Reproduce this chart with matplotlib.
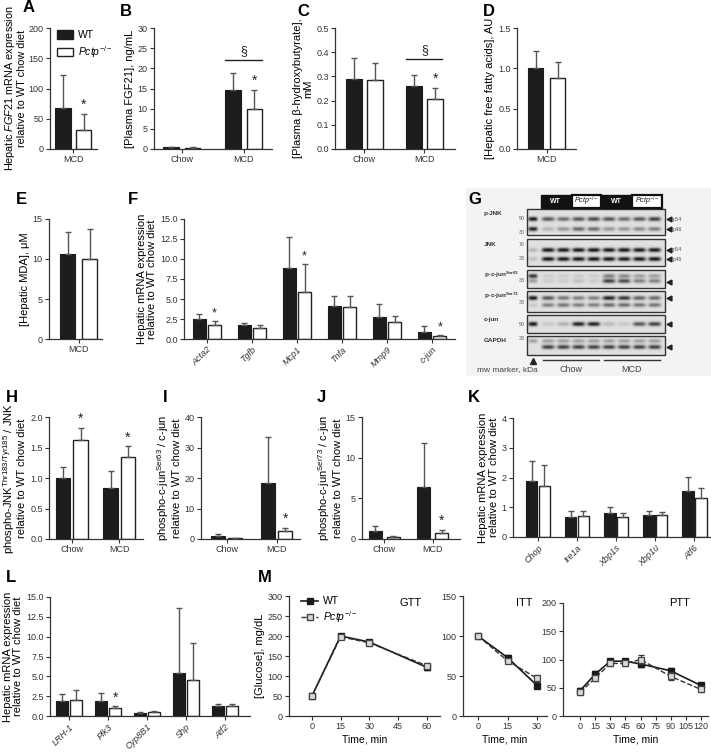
import numpy as np
import matplotlib
matplotlib.use('Agg')
import matplotlib.pyplot as plt
from matplotlib.patches import Rectangle, Patch
from matplotlib.lines import Line2D

plt.rcParams['font.family'] = ['Liberation Sans', 'DejaVu Sans']
plt.rcParams['mathtext.fontset'] = 'custom'
plt.rcParams['mathtext.rm'] = 'Liberation Sans'
plt.rcParams['mathtext.it'] = 'Liberation Sans:italic'
plt.rcParams['mathtext.bf'] = 'Liberation Sans:bold'

# ---------------- data ----------------
diet_mcd = ['MCD']
diet_both = ['Chow', 'MCD']

a_wt, a_wt_err, a_ko, a_ko_err = [67], [55], [32], [26]
b_wt, b_wt_err, b_ko, b_ko_err = [0.4, 14.7], [0.1, 4.2], [0.3, 9.8], [0.1, 4.9]
c_wt, c_wt_err, c_ko, c_ko_err = [0.29, 0.26], [0.085, 0.045], [0.285, 0.207], [0.072, 0.045]
d_wt, d_wt_err, d_ko, d_ko_err = [1.0], [0.22], [0.88], [0.20]
e_wt, e_wt_err, e_ko, e_ko_err = [10.6], [2.8], [10.0], [3.7]

f_genes = ['Acta2', 'Tgfb', 'Mcp1', 'Tnfa', 'Mmp9', 'c-jun']
f_wt = [2.5, 1.7, 8.9, 4.1, 2.75, 0.9]
f_wt_err = [0.65, 0.35, 3.8, 1.3, 1.65, 0.7]
f_ko = [1.8, 1.4, 5.85, 4.0, 2.1, 0.35]
f_ko_err = [0.4, 0.3, 3.55, 1.4, 0.8, 0.1]

h_wt, h_wt_err, h_ko, h_ko_err = [1.0, 0.83], [0.18, 0.28], [1.63, 1.34], [0.19, 0.18]
i_wt, i_wt_err, i_ko, i_ko_err = [1.0, 18.3], [0.8, 15.0], [0.3, 2.5], [0.1, 1.2]
j_wt, j_wt_err, j_ko, j_ko_err = [1.0, 6.4], [0.6, 5.4], [0.25, 0.75], [0.1, 0.35]

k_genes = ['Chop', 'Ire1a', 'Xbp1s', 'Xbp1u', 'Atf6']
k_wt = [1.87, 0.68, 0.80, 0.74, 1.53]
k_wt_err = [0.70, 0.20, 0.20, 0.12, 0.48]
k_ko = [1.70, 0.70, 0.67, 0.73, 1.32]
k_ko_err = [0.72, 0.18, 0.12, 0.10, 0.32]

l_genes = ['LRH-1', 'Plk3', 'Cyp8B1', 'Shp', 'Atf2']
l_wt = [1.95, 1.9, 0.4, 5.45, 1.3]
l_wt_err = [0.8, 1.05, 0.1, 8.15, 0.25]
l_ko = [2.0, 0.95, 0.5, 4.5, 1.25]
l_ko_err = [1.3, 0.3, 0.1, 4.75, 0.3]

gtt_t = [0, 15, 30, 60]
gtt_wt = [50, 200, 185, 122]
gtt_wt_err = [3, 5, 6, 6]
gtt_ko = [50, 198, 183, 126]
gtt_ko_err = [3, 5, 8, 7]
itt_t = [0, 15, 30]
itt_wt = [100, 73, 38]
itt_wt_err = [2, 3, 2]
itt_ko = [100, 69, 47]
itt_ko_err = [2, 3, 4]
ptt_t = [0, 15, 30, 45, 60, 90, 120]
ptt_wt = [45, 74, 97, 97, 92, 80, 54]
ptt_wt_err = [4, 5, 4, 4, 5, 5, 5]
ptt_ko = [42, 67, 93, 93, 100, 70, 47]
ptt_ko_err = [4, 5, 4, 5, 8, 7, 5]

# western blot band intensities (lane 0 = mw marker, lanes 1-8 samples)
blot_groups = ['WT', 'Pctp', 'WT', 'Pctp']
pjnk_p54 = [0.95, 0.65, 0.55, 0.65, 0.7, 0.65, 0.55, 0.65, 0.75]
pjnk_p46 = [0.9, 0.2, 0.35, 0.55, 0.55, 0.35, 0.35, 0.4, 0.45]
jnk_p54 = [0.2, 0.95, 0.95, 0.95, 0.95, 0.95, 0.95, 0.95, 0.95]
jnk_p46 = [0.15, 0.95, 0.95, 0.95, 0.95, 0.95, 0.92, 0.95, 0.95]
pcjun63_up = [0.8, 0.1, 0.1, 0.1, 0.1, 0.45, 0.4, 0.3, 0.3]
pcjun63_lo = [0.3, 0.1, 0.1, 0.15, 0.1, 0.75, 0.7, 0.45, 0.45]
pcjun73_up = [0.95, 0.65, 0.5, 0.45, 0.45, 0.9, 0.8, 0.6, 0.55]
pcjun73_lo = [0.1, 0.45, 0.5, 0.45, 0.45, 0.55, 0.55, 0.5, 0.5]
cjun_band = [0.95, 0.12, 0.22, 0.9, 0.9, 0.18, 0.12, 0.65, 0.75]
gapdh_up = [0.3, 0.3, 0.3, 0.3, 0.3, 0.3, 0.3, 0.3, 0.3]
gapdh_lo = [0.0, 0.75, 0.75, 0.75, 0.75, 0.75, 0.75, 0.75, 0.75]

# ---------------- figure ----------------
W, H = 711, 753
fig = plt.figure(figsize=(W / 100, H / 100), dpi=100)

KO = r'$\it{Pctp}^{-/-}$'
BLACK = '#1c1c1c'
AXC = '#333333'
TICKFS = 6.5
LABFS = 8


def axpx(x0, y0, x1, y1):
    return fig.add_axes([x0 / W, 1 - y1 / H, (x1 - x0) / W, (y1 - y0) / H])


def style(ax, ylim, yticks, yfmt):
    for s in ['top', 'right']:
        ax.spines[s].set_visible(False)
    for s in ['left', 'bottom']:
        ax.spines[s].set_color(AXC)
        ax.spines[s].set_linewidth(0.9)
    ax.set_ylim(*ylim)
    ax.set_yticks(yticks)
    ax.set_yticklabels([yfmt.format(v) for v in yticks])
    ax.tick_params(axis='both', labelsize=TICKFS, length=3, width=0.8,
                   color=AXC, labelcolor='#333333', pad=1.5)
    ax.patch.set_alpha(0)


def barpanel(ax, groups, wt, wte, ko, koe, d, w, xlim, ylim, yticks, yfmt,
             stars=(), rot=False, ylabel='', starfs=10, labfs=LABFS):
    x = np.arange(len(groups))
    ax.bar(x - d, wt, w, color=BLACK, edgecolor=BLACK, lw=0.8, zorder=2)
    ax.bar(x + d, ko, w, color='white', edgecolor='#222222', lw=1.0, zorder=2)
    z = np.zeros(len(wt))
    ax.errorbar(x - d, wt, yerr=[z, wte], fmt='none', ecolor='#555555',
                elinewidth=1.0, capsize=2.5, capthick=1.0, zorder=3)
    ax.errorbar(x + d, ko, yerr=[z, koe], fmt='none', ecolor='#555555',
                elinewidth=1.0, capsize=2.5, capthick=1.0, zorder=3)
    style(ax, ylim, yticks, yfmt)
    ax.set_xlim(*xlim)
    ax.set_xticks(x)
    if rot:
        ax.set_xticklabels(groups, rotation=45, ha='right', rotation_mode='anchor',
                           style='italic', fontsize=TICKFS)
    else:
        ax.set_xticklabels(groups, fontsize=TICKFS)
    yr = ylim[1] - ylim[0]
    for i in stars:
        ax.text(i + d, ko[i] + koe[i] + 0.015 * yr, '*', ha='center', va='bottom',
                fontsize=starfs, color='#222222')
    ax.set_ylabel(ylabel, fontsize=labfs, labelpad=2, linespacing=1.1)
    return x


def letter(x, y, s):
    fig.text(x / W, 1 - y / H, s, fontsize=12, fontweight='bold', va='center', ha='left')


# A
ax = axpx(50, 28, 97, 149)
barpanel(ax, diet_mcd, a_wt, a_wt_err, a_ko, a_ko_err, 0.22, 0.34, (-0.5, 0.51),
         (0, 200), [0, 50, 100, 150, 200], '{:.0f}', stars=[0],
         ylabel='Hepatic $\\it{FGF21}$ mRNA expression\nrelative to WT chow diet', labfs=7.8)
ax.yaxis.labelpad = 1
ax.legend(handles=[Patch(facecolor=BLACK, edgecolor=BLACK, label='WT'),
                   Patch(facecolor='white', edgecolor='#222222', label=KO)],
          loc='upper left', bbox_to_anchor=(53 / W, 1 - 26 / H), bbox_transform=fig.transFigure,
          frameon=False, fontsize=7.5, handlelength=1.5, handleheight=0.9,
          handletextpad=0.5, labelspacing=0.35, borderaxespad=0)
letter(23, 8, 'A')

# B
ax = axpx(154, 28, 272, 149)
barpanel(ax, diet_both, b_wt, b_wt_err, b_ko, b_ko_err, 0.174, 0.25, (-0.45, 1.46),
         (0, 30), [0, 5, 10, 15, 20, 25, 30], '{:.0f}', stars=[1],
         ylabel='[Plasma FGF21], ng/mL')
ax.plot([1 - 0.3, 1 + 0.3], [22, 22], color='#222222', lw=1)
ax.text(1, 22.8, '§', ha='center', va='bottom', fontsize=9, color='#222222')
letter(120, 11, 'B')

# C
ax = axpx(335, 28, 455, 149)
barpanel(ax, diet_both, c_wt, c_wt_err, c_ko, c_ko_err, 0.18, 0.27, (-0.49, 1.51),
         (0, 0.5), [0, 0.1, 0.2, 0.3, 0.4, 0.5], '{:.1f}', stars=[1],
         ylabel='[Plasma β-hydroxybutyrate],\nmM')
ax.plot([1 - 0.3, 1 + 0.3], [0.372, 0.372], color='#222222', lw=1)
ax.text(1, 0.385, '§', ha='center', va='bottom', fontsize=9, color='#222222')
letter(297, 11, 'C')

# D
ax = axpx(517, 28, 576, 149)
barpanel(ax, diet_mcd, d_wt, d_wt_err, d_ko, d_ko_err, 0.22, 0.3, (-0.59, 0.59),
         (0, 1.5), [0, 0.5, 1.0, 1.5], '{:.1f}',
         ylabel='[Hepatic free fatty acids], AU')
letter(483, 11, 'D')

# E
ax = axpx(49, 219, 102, 339)
barpanel(ax, diet_mcd, e_wt, e_wt_err, e_ko, e_ko_err, 0.22, 0.3, (-0.59, 0.47),
         (0, 15), [0, 5, 10, 15], '{:.0f}', ylabel='[Hepatic MDA], μM')
letter(16, 199, 'E')

# F
ax = axpx(184, 219, 455, 339)
barpanel(ax, f_genes, f_wt, f_wt_err, f_ko, f_ko_err, 0.17, 0.29, (-0.51, 5.51),
         (0, 15), [0, 2.5, 5, 7.5, 10, 12.5, 15], '{:.1f}', stars=[0, 2, 5], rot=True,
         ylabel='Hepatic mRNA expression\nrelative to WT chow diet', starfs=9)
letter(128, 199, 'F')

# G  western blot
gx = axpx(462, 186, 711, 378)
gx.set_xlim(462, 711)
gx.set_ylim(378, 186)
gx.axis('off')
gx.add_patch(Rectangle((466, 188), 245, 188, facecolor='#f3f3f3', edgecolor='none', zorder=0))
lane0, dlane = 533.0, 15.2
lanes = lane0 + dlane * np.arange(9)
bx0, bx1 = 527, 665

rows = [
    (209, 235, [(219, pjnk_p54), (229, pjnk_p46)], [('50', 219), ('30', 232)], [(219, 'p54'), (229, 'p46')], 'p-JNK'),
    (239, 266, [(250, jnk_p54), (259, jnk_p46)], [('70', 244), ('38', 258)], [(250, 'p54'), (259, 'p46')], 'JNK'),
    (270, 288, [(276, pcjun63_up), (281, pcjun63_lo)], [('38', 280)], [(282, '')], r'p-c-jun$^{\mathbf{Ser63}}$'),
    (291, 312, [(298, pcjun73_up), (305, pcjun73_lo)], [('38', 302)], [(298, '')], r'p-c-jun$^{\mathbf{Ser73}}$'),
    (315, 333, [(324, cjun_band)], [('50', 324)], [(324, '')], 'c-jun'),
    (336, 355, [(341, gapdh_up), (347, gapdh_lo)], [('38', 339)], [(347, '')], 'GAPDH'),
]
res = 4
for y0, y1, bands, mws, arrows, lab in rows:
    nx = int((bx1 - bx0) * res)
    ny = int((y1 - y0) * res)
    xs = bx0 + (np.arange(nx) + 0.5) / res
    ys = y0 + (np.arange(ny) + 0.5) / res
    XX, YY = np.meshgrid(xs, ys)
    dark = np.zeros_like(XX)
    for yb, inten in bands:
        for li, v in enumerate(inten):
            wx = 6.3 if li > 0 else 4.5
            dark += v * np.exp(-((XX - lanes[li]) / wx) ** 4) * np.exp(-((YY - yb) / 2.1) ** 2)
    img = 0.88 * (1 - 0.97 * np.clip(dark, 0, 1))
    gx.imshow(img, cmap='gray', vmin=0, vmax=1, extent=(bx0, bx1, y1, y0),
              origin='upper', interpolation='bilinear', zorder=1, aspect='auto')
    gx.add_patch(Rectangle((bx0, y0), bx1 - bx0, y1 - y0, facecolor='none',
                           edgecolor='#333333', lw=1.0, zorder=2))
    gx.text(484, y0 + 5, lab, fontsize=4.6, fontweight='bold', va='center', ha='left', color='#333333')
    for m, ym in mws:
        gx.text(525, ym, m, fontsize=3.8, ha='right', va='center', color='#555555')
    for ya, t in arrows:
        gx.plot([bx1 + 4], [ya], marker='<', color='#222222', ms=3.5)
        if t:
            gx.text(bx1 + 8, ya, t, fontsize=4, va='center', ha='left', color='#555555')

for gi, g in enumerate(blot_groups):
    xa = lanes[1 + 2 * gi] - dlane / 2 + 0.5
    xb = lanes[2 + 2 * gi] + dlane / 2 - 0.5
    if g == 'WT':
        gx.add_patch(Rectangle((xa, 195), xb - xa, 13, facecolor='#111111', edgecolor='#111111', lw=1, zorder=2))
        gx.text((xa + xb) / 2, 201.5, 'WT', color='white', fontsize=5, fontweight='bold', ha='center', va='center')
    else:
        gx.add_patch(Rectangle((xa, 195), xb - xa, 13, facecolor='white', edgecolor='#111111', lw=1.6, zorder=2))
        gx.text((xa + xb) / 2, 201.5, r'$\it{Pctp}^{-/-}$', color='#111111', fontsize=5, ha='center', va='center')

gx.plot([lanes[0]], [361], marker='^', color='#222222', ms=4)
gx.plot([lanes[1] - 5, lanes[4] + 5], [360, 360], color='#333333', lw=1)
gx.plot([lanes[5] - 5, lanes[8] + 5], [360, 360], color='#333333', lw=1)
gx.text(lanes[0] + 5, 370, 'mw marker, kDa', fontsize=6, ha='right', va='center', color='#444444')
gx.text((lanes[1] + lanes[4]) / 2, 370, 'Chow', fontsize=6.5, ha='center', va='center', color='#444444')
gx.text((lanes[5] + lanes[8]) / 2, 370, 'MCD', fontsize=6.5, ha='center', va='center', color='#444444')
letter(468, 199, 'G')

# H
ax = axpx(49, 417, 143, 539)
barpanel(ax, diet_both, h_wt, h_wt_err, h_ko, h_ko_err, 0.184, 0.3, (-0.48, 1.5),
         (0, 2.0), [0, 0.5, 1.0, 1.5, 2.0], '{:.1f}', stars=[0, 1],
         ylabel='phospho-JNK$^{\\mathregular{Thr183/Tyr185}}$ / JNK\nrelative to WT chow diet')
letter(6, 398, 'H')

# I
ax = axpx(201, 417, 300, 539)
barpanel(ax, diet_both, i_wt, i_wt_err, i_ko, i_ko_err, 0.17, 0.28, (-0.515, 1.465),
         (0, 40), [0, 10, 20, 30, 40], '{:.0f}', stars=[1],
         ylabel='phospho-c-jun$^{\\mathregular{Ser63}}$ / c-jun\nrelative to WT chow diet')
letter(163, 398, 'I')

# J
ax = axpx(362, 417, 460, 539)
barpanel(ax, diet_both, j_wt, j_wt_err, j_ko, j_ko_err, 0.186, 0.27, (-0.46, 1.56),
         (0, 15), [0, 5, 10, 15], '{:.0f}', stars=[1],
         ylabel='phospho-c-jun$^{\\mathregular{Ser73}}$ / c-jun\nrelative to WT chow diet')
letter(317, 398, 'J')

# K
ax = axpx(513, 418, 711, 537)
barpanel(ax, k_genes, k_wt, k_wt_err, k_ko, k_ko_err, 0.165, 0.3, (-0.64, 4.43),
         (0, 4), [0, 1, 2, 3, 4], '{:.0f}', rot=True,
         ylabel='Hepatic mRNA expression\nrelative to WT chow diet')
letter(468, 398, 'K')

# L
ax = axpx(50, 597, 250, 716)
barpanel(ax, l_genes, l_wt, l_wt_err, l_ko, l_ko_err, 0.18, 0.29, (-0.49, 4.64),
         (0, 15), [0, 2.5, 5, 7.5, 10, 12.5, 15], '{:.1f}', stars=[1], rot=True,
         ylabel='Hepatic mRNA expression\nrelative to WT chow diet')
letter(6, 577, 'L')


# M
def linepanel(ax, t, wt, wte, ko, koe, xlim, ylim, yticks, xticks, title, title_x):
    ax.errorbar(t, wt, yerr=wte, color='#1a1a1a', lw=1.2, marker='s', ms=4,
                mfc='#1a1a1a', mec='#1a1a1a', capsize=2, elinewidth=0.8, zorder=3)
    ax.errorbar(t, ko, yerr=koe, color='#333333', lw=1.0, ls='--', marker='s', ms=4.5,
                mfc='#d9d9d9', mec='#444444', mew=0.9, capsize=2, elinewidth=0.8, zorder=4)
    style(ax, ylim, yticks, '{:.0f}')
    ax.set_xlim(*xlim)
    ax.set_xticks(xticks)
    ax.set_xticklabels([str(v) for v in xticks], fontsize=TICKFS)
    ax.set_xlabel('Time, min', fontsize=7.5, labelpad=2)
    fig.text(title_x / W, 1 - 603 / H, title, fontsize=8, ha='center', va='center')


ax = axpx(289, 596, 440, 716)
linepanel(ax, gtt_t, gtt_wt, gtt_wt_err, gtt_ko, gtt_ko_err, (-12, 67), (0, 300),
          [0, 50, 100, 150, 200, 250, 300], [0, 15, 30, 45, 60], 'GTT', 411)
ax.set_ylabel('[Glucose], mg/dL', fontsize=LABFS, labelpad=2)
ax.legend(handles=[Line2D([], [], color='#1a1a1a', lw=1.2, marker='s', ms=4, label='WT'),
                   Line2D([], [], color='#333333', lw=1.0, ls='--', marker='s', ms=4.5,
                          mfc='#d9d9d9', mec='#444444', label=KO)],
          loc='upper left', bbox_to_anchor=(297 / W, 1 - 592 / H), bbox_transform=fig.transFigure,
          frameon=False, fontsize=7.5, handlelength=1.6, handletextpad=0.5,
          labelspacing=0.3, borderaxespad=0)
letter(258, 577, 'M')

ax = axpx(463, 596, 547, 716)
linepanel(ax, itt_t, itt_wt, itt_wt_err, itt_ko, itt_ko_err, (-7.6, 35), (0, 150),
          [0, 50, 100, 150], [0, 15, 30], 'ITT', 524)

ax = axpx(563, 603, 708, 716)
linepanel(ax, ptt_t, ptt_wt, ptt_wt_err, ptt_ko, ptt_ko_err, (-17, 127), (0, 200),
          [0, 50, 100, 150, 200], [0, 15, 30, 45, 60, 75, 90, 105, 120], 'PTT', 680)

fig.savefig('out.png', dpi=100)
